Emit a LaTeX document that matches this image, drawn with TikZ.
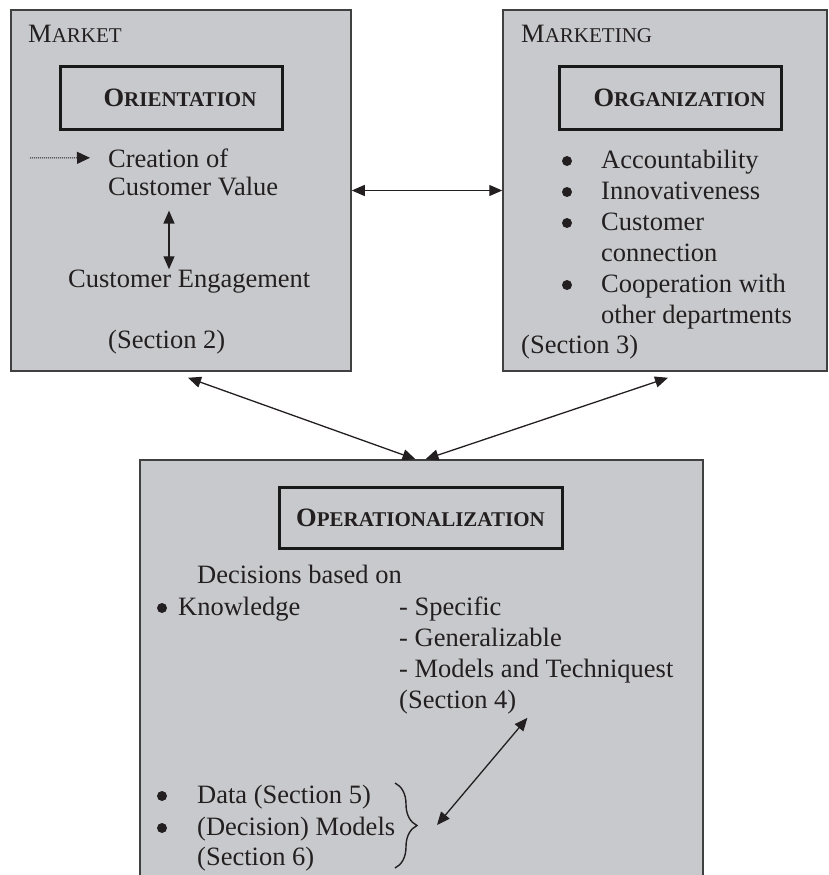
\documentclass[tikz,border=0pt]{standalone}
\usepackage{fontspec}
\setmainfont{Liberation Serif}
\usetikzlibrary{arrows.meta}
\usetikzlibrary{decorations.pathreplacing}

\definecolor{panelgray}{RGB}{200,201,204}
\definecolor{inkgray}{RGB}{35,31,32}
\newcommand{\fakesc}[2]{#1{\fontsize{21}{21}\selectfont #2}}

\begin{document}
\begin{tikzpicture}[x=1pt,y=-1pt,font=\fontsize{26.5}{31}\selectfont,text=inkgray]
			\tikzset{panel/.style = {shape=rectangle,draw=black!75,fill=panelgray,
					line width=1.5pt,inner sep=0pt}}
			\tikzset{titlebox/.style = {shape=rectangle,draw=black!90,line width=3pt,
					inner sep=0pt,font=\fontsize{26.5}{31}\selectfont\bfseries}}
			\tikzset{txt/.style = {anchor=base west,inner sep=0pt}}
			\tikzset{dot/.style = {shape=circle,fill=inkgray,inner sep=0pt,minimum size=10pt}}
			\tikzset{edgebi/.style = {{Triangle[length=13pt,width=11pt]}-{Triangle[length=13pt,width=11pt]},
					line width=1.3pt,draw=inkgray}}
			\tikzset{edgedot/.style = {-{Triangle[length=13pt,width=12pt]},densely dotted,
					line width=1pt,draw=inkgray}}
			
			\useasboundingbox (0,0) rectangle (829,875);
			
			% panels
			\node[panel,minimum width=340pt,minimum height=361pt] (market) at (181,190.5) {};
			\node[panel,minimum width=324pt,minimum height=361pt] (marketing) at (665,190.5) {};
			\node[panel,minimum width=563pt,minimum height=430pt] (oper) at (421.5,675) {};
			
			% title boxes
			\node[titlebox,minimum width=222pt,minimum height=62pt] (orient) at (171,98) {\hspace*{18pt}\fakesc{O}{RIENTATION}};
			\node[titlebox,minimum width=222pt,minimum height=62pt] (organ) at (670,98) {\hspace*{19pt}\fakesc{O}{RGANIZATION}};
			\node[titlebox,minimum width=283pt,minimum height=61pt] (operbox) at (420.5,517.5) {\fakesc{O}{PERATIONALIZATION}};
			
			% market
			\node[txt] (mkt) at (28,43) {\fakesc{M}{ARKET}};
			\node[txt] (creation) at (108,167) {Creation of};
			\node[txt] (value) at (108,195) {Customer Value};
			\node[txt] (engage) at (68,287) {Customer Engagement};
			\node[txt] (sec2) at (108,348) {(Section 2)};
			\coordinate (dotstart) at (30,158);
			
			% marketing
			\node[txt] (mktg) at (521,43) {\fakesc{M}{ARKETING}};
			\foreach \y [count=\i] in {161,192,223,285}
				\node[dot] (rb\i) at (567,\y) {};
			\node[txt] (acc) at (601,168) {Accountability};
			\node[txt] (inno) at (601,199) {Innovativeness};
			\node[txt] (cust) at (601,230) {Customer};
			\node[txt] (conn) at (601,261) {connection};
			\node[txt] (coop) at (601,292) {Cooperation with};
			\node[txt] (dept) at (601,323) {other departments};
			\node[txt] (sec3) at (521,353) {(Section 3)};
			
			% operationalization
			\node[txt] (decide) at (197,583) {Decisions based on};
			\node[dot] (bk) at (162,608) {};
			\node[txt] (know) at (178,615) {Knowledge};
			\node[txt] (spec) at (399,615) {- Specific};
			\node[txt] (gen) at (399,646) {- Generalizable};
			\node[txt] (modtech) at (399,677) {- Models and Techniquest};
			\node[txt] (sec4) at (399,708) {(Section 4)};
			\node[dot] (bd) at (162,796) {};
			\node[txt] (data) at (197,803) {Data (Section 5)};
			\node[dot] (bm) at (162,828) {};
			\node[txt] (dmod) at (197,835) {(Decision) Models};
			\node[txt] (sec6) at (197,865) {(Section 6)};
			\coordinate (bracetop) at (395,783);
			\coordinate (bracebot) at (395,868);
			\coordinate (bracetip) at (418,825);
			
			%edges
			
			\draw[edgebi] (market.east) to (marketing.west);
			\draw[edgebi] ([xshift=7pt,yshift=-6pt]market.south) to ([xshift=-6pt]oper.north);
			\draw[edgebi] ([xshift=3pt,yshift=-6pt]marketing.south) to ([xshift=4pt]oper.north);
			\draw[edgebi] ([xshift=61pt,yshift=-15pt]value.south west) to ([xshift=101pt]engage.north west);
			\draw[edgedot] (dotstart) to ([xshift=-18pt]creation.west);
			\draw[edgebi] ([xshift=11pt,yshift=-4pt]sec4.south east) to ([xshift=19pt]bracetip);
			\draw[decorate,decoration={brace,amplitude=22pt},line width=1.4pt,draw=inkgray] (bracetop) -- (bracebot);
			
\end{tikzpicture}
\end{document}
